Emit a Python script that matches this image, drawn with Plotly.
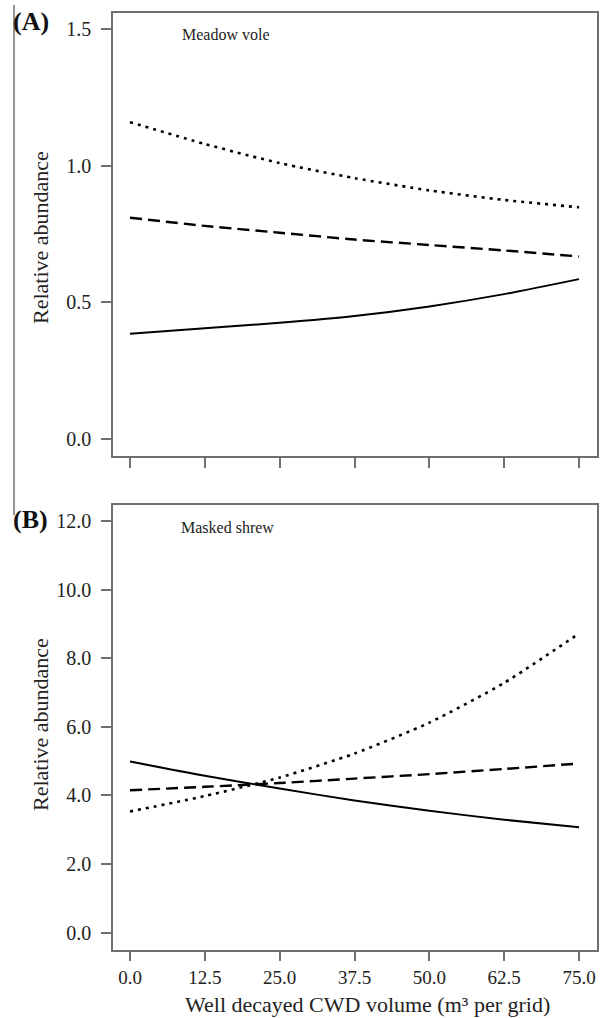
import plotly.graph_objects as go

# ---- data ----
x_vals = [0.0, 12.5, 25.0, 37.5, 50.0, 62.5, 75.0]
x_ticks = [0.0, 12.5, 25.0, 37.5, 50.0, 62.5, 75.0]
x_tick_labels = ["0.0", "12.5", "25.0", "37.5", "50.0", "62.5", "75.0"]

vole_dotted = [1.16, 1.08, 1.01, 0.955, 0.91, 0.875, 0.848]
vole_dashed = [0.81, 0.78, 0.755, 0.73, 0.71, 0.69, 0.668]
vole_solid = [0.385, 0.405, 0.425, 0.45, 0.485, 0.53, 0.585]

shrew_dotted = [3.53, 3.98, 4.52, 5.22, 6.12, 7.28, 8.72]
shrew_dashed = [4.15, 4.25, 4.36, 4.49, 4.62, 4.77, 4.93]
shrew_solid = [4.99, 4.57, 4.20, 3.85, 3.55, 3.29, 3.07]

vole_yticks = [0.0, 0.5, 1.0, 1.5]
shrew_yticks = [0.0, 2.0, 4.0, 6.0, 8.0, 10.0, 12.0]

FONT = "Liberation Serif, Times New Roman, serif"
FRAME = "#707070"

fig = go.Figure()


def add_series(ys, dash, width, xa, ya):
    fig.add_trace(go.Scatter(
        x=x_vals, y=ys, mode="lines", xaxis=xa, yaxis=ya,
        line=dict(color="black", width=width, dash=dash, shape="spline", smoothing=0.6),
        showlegend=False, hoverinfo="skip"))


add_series(vole_dotted, "3px,5px", 2.6, "x", "y")
add_series(vole_dashed, "12px,6px", 2.4, "x", "y")
add_series(vole_solid, "solid", 2, "x", "y")
add_series(shrew_dotted, "3px,5px", 2.6, "x2", "y2")
add_series(shrew_dashed, "12px,6px", 2.4, "x2", "y2")
add_series(shrew_solid, "solid", 2, "x2", "y2")

W, H = 612, 1018
xdom = [113 / W, 597 / W]
ydom_top = [1 - 456 / H, 1 - 12.7 / H]
ydom_bot = [1 - 949.7 / H, 1 - 505 / H]

axis_common = dict(showline=True, linecolor=FRAME, linewidth=1.5, mirror=True,
                   showgrid=False, zeroline=False, ticks="outside", ticklen=10,
                   tickcolor=FRAME, tickwidth=1.5)

yfont = dict(family=FONT, size=20, color="#222")
xfont = dict(family=FONT, size=19, color="#222")

fig.update_layout(
    width=W, height=H,
    margin=dict(l=0, r=0, t=0, b=0),
    font=dict(family=FONT, color="#222"),
    paper_bgcolor="white", plot_bgcolor="white",
    xaxis=dict(domain=xdom, anchor="y", range=[-2.84, 78.0],
               tickvals=x_ticks, showticklabels=False, **axis_common),
    yaxis=dict(domain=ydom_top, anchor="x", range=[-0.063, 1.561],
               tickvals=vole_yticks, ticktext=[f"{v:.1f}" for v in vole_yticks],
               ticklabelstandoff=6, tickfont=yfont, **axis_common),
    xaxis2=dict(domain=xdom, anchor="y2", range=[-2.84, 78.0],
                tickvals=x_ticks, ticktext=x_tick_labels, ticklabelstandoff=0,
                tickfont=xfont, **axis_common),
    yaxis2=dict(domain=ydom_bot, anchor="x2", range=[-0.499, 12.466],
                tickvals=shrew_yticks, ticktext=[f"{v:.1f}" for v in shrew_yticks],
                ticklabelstandoff=6, tickfont=yfont, **axis_common),
)

ann = []
ann.append(dict(text="Meadow vole", x=180 / W, y=1 - 34 / H, xref="paper", yref="paper",
                xanchor="left", yanchor="middle", showarrow=False,
                font=dict(family=FONT, size=16, color="#222")))
ann.append(dict(text="Masked shrew", x=179 / W, y=1 - 527 / H, xref="paper", yref="paper",
                xanchor="left", yanchor="middle", showarrow=False,
                font=dict(family=FONT, size=16, color="#222")))
ann.append(dict(text="<b>(A)</b>", x=11 / W, y=1 - 22 / H, xref="paper", yref="paper",
                xanchor="left", yanchor="middle", showarrow=False,
                font=dict(family=FONT, size=26, color="#111")))
ann.append(dict(text="<b>(B)</b>", x=11 / W, y=1 - 519 / H, xref="paper", yref="paper",
                xanchor="left", yanchor="middle", showarrow=False,
                font=dict(family=FONT, size=26, color="#111")))
ann.append(dict(text="Relative abundance", x=40 / W, y=1 - 238 / H, xref="paper", yref="paper",
                xanchor="center", yanchor="middle", showarrow=False, textangle=-90,
                font=dict(family=FONT, size=22, color="#222")))
ann.append(dict(text="Relative abundance", x=40 / W, y=1 - 725 / H, xref="paper", yref="paper",
                xanchor="center", yanchor="middle", showarrow=False, textangle=-90,
                font=dict(family=FONT, size=22, color="#222")))
ann.append(dict(text="Well decayed CWD volume (m³ per grid)", x=367 / W, y=1 - 1004 / H,
                xref="paper", yref="paper", xanchor="center", yanchor="middle",
                showarrow=False, font=dict(family=FONT, size=22, color="#222")))
fig.update_layout(annotations=ann)

fig.add_shape(type="line", xref="paper", yref="paper",
              x0=14 / W, x1=14 / W, y0=1 - 5 / H, y1=1 - 515 / H,
              line=dict(color=FRAME, width=1.5))

fig.write_html("out.html", config={"displayModeBar": False},
               post_script="document.body.style.margin='0px';document.body.style.overflow='hidden';")
